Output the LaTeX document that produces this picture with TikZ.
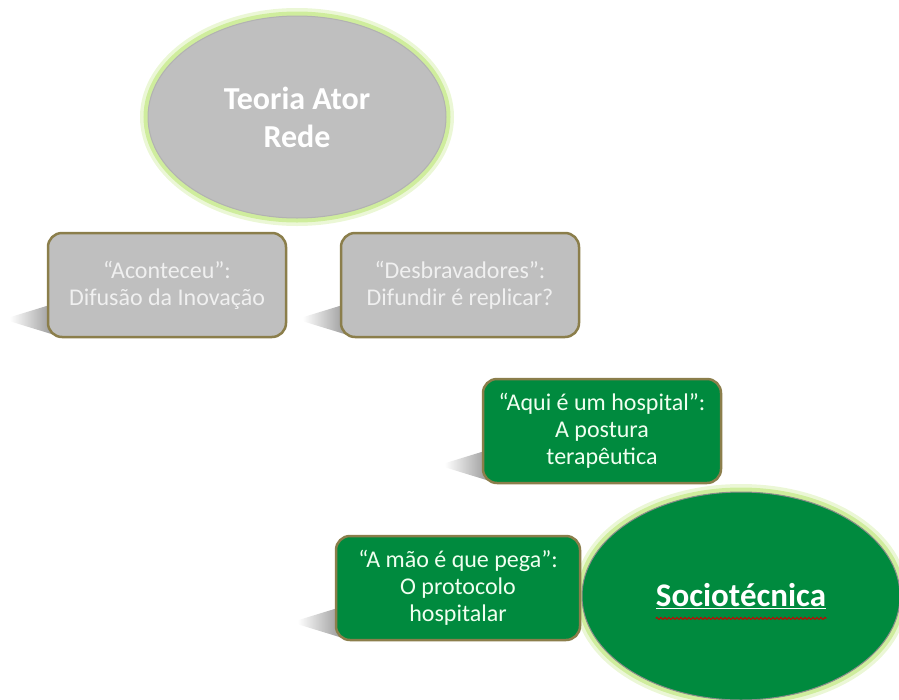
\documentclass[tikz,border=0pt]{standalone}
\usepackage{fontspec}
\setmainfont{Carlito}
\usepackage{xcolor}
\usetikzlibrary{shapes.geometric,calc,backgrounds,decorations.pathmorphing}
\definecolor{cinza}{HTML}{BFBFBF}
\definecolor{verde}{HTML}{008A3E}
\definecolor{oliva}{HTML}{8B7E4B}
\definecolor{brilho}{HTML}{C6E98A}

\begin{document}
\begin{tikzpicture}[x=1pt,y=-1pt]
\tikzset{
    c1/.style={%
        draw=oliva, line width=2.5pt,
        fill=cinza,
        rectangle,
        rounded corners=14pt,
        minimum height=104pt,
        minimum width=238pt,
        text=white!94!black, align=center,
        font=\fontsize{24}{27}\selectfont
        },
    v1/.style={%
        c1, fill=verde, text=white!94!green
        },
    e1/.style={%
        ellipse, draw=black!30, line width=1pt,
        preaction={draw=brilho, line width=16pt, draw opacity=.35},
        preaction={draw=brilho, line width=9pt, draw opacity=.75},
        text=white, align=center, inner sep=0pt,
        font=\bfseries\fontsize{32}{38}\selectfont
        },
    sombra/.style={left color=white, right color=black!45},
}
\useasboundingbox (0,0) rectangle (899,699);
%%%ELLIPSES
\node[e1, fill=cinza, minimum width=298pt, minimum height=202pt] (e1) at (297,117) {Teoria Ator\\Rede};
\node[e1, fill=verde, draw=black!45, minimum width=318pt, minimum height=208pt] (e2) at (741,596) {};
\node[text=white, inner sep=0pt, font=\bfseries\fontsize{33}{36}\selectfont] (s1) at (e2.center) {\underline{Sociotécnica}};
\draw[red!80!black, line width=0.9pt, decorate, decoration={snake, amplitude=1.1pt, segment length=4pt}]
    ($(s1.base west)+(0,12)$) -- ($(s1.base east)+(0,12)$);
%%%BOXES
\node[c1] (b1) at (167,285) {“Aconteceu”:\\Difusão da Inovação};
\node[c1] (b2) at (460,285) {“Desbravadores”:\\Difundir é replicar?};
\node[v1] (b3) at (602,431) {“Aqui é um hospital”:\\A postura\\terapêutica};
\node[v1, minimum width=244pt] (b4) at (458,588) {“A mão é que pega”:\\O protocolo\\hospitalar};
%%%SHADOWS
\begin{scope}[on background layer]
\foreach \b in {b1,b2,b3,b4}
    \shade[sombra] ($(\b.south west)+(12,-36)$) -- ($(\b.south west)+(-37,-21)$)
        -- ($(\b.south west)+(-37,-17)$) -- ($(\b.south west)+(12,-2)$) -- cycle;
\end{scope}
\end{tikzpicture}
\end{document}
